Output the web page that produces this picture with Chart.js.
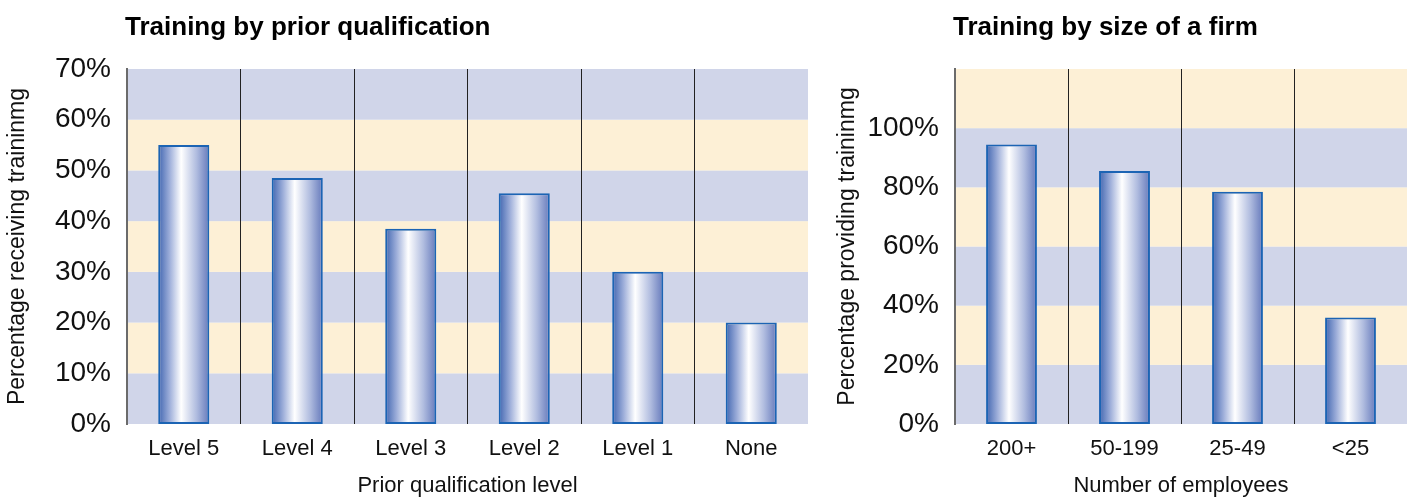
<!DOCTYPE html>
<html>
<head>
<meta charset="utf-8">
<script src="https://cdn.jsdelivr.net/npm/chart.js@4/dist/chart.umd.min.js"></script>
<style>
  body { margin: 0; background: #fff; }
  #wrap { position: relative; width: 1407px; height: 499px; }
  canvas { position: absolute; top: 0; }
</style>
</head>
<body>
<div id="wrap">
  <canvas id="qualChart" width="830" height="499" style="left:0"></canvas>
  <canvas id="firmChart" width="577" height="499" style="left:830px"></canvas>
</div>
<script>
const qualLevels = ['Level 5', 'Level 4', 'Level 3', 'Level 2', 'Level 1', 'None'];
const qualValues = [55, 48.5, 38.5, 45.5, 30, 20];

const firmSizes = ['200+', '50-199', '25-49', '<25'];
const firmValues = [94.5, 85.5, 78.5, 36];

const blueBand = '#d0d5e9';
const creamBand = '#fdf0d6';
const font = "'Liberation Sans', Arial, sans-serif";

Chart.defaults.font.family = font;
Chart.defaults.color = '#111';

// horizontal bands between y ticks, alternating colours
const bands = {
    id: 'bands',
    beforeDraw(chart, args, opts) {
        const {ctx, chartArea: a, scales: {y}} = chart;
        const step = opts.step;
        ctx.save();
        for (let v = 0, i = 0; v < y.max; v += step, i++) {
            const top = y.getPixelForValue(Math.min(v + step, y.max));
            const bot = y.getPixelForValue(v);
            ctx.fillStyle = i % 2 == 0 ? blueBand : creamBand;
            ctx.fillRect(a.left, top, a.right - a.left, bot - top);
        }
        ctx.restore();
    }
};

// title aligned with the plot area
const plotTitle = {
    id: 'plotTitle',
    afterDraw(chart, args, opts) {
        const ctx = chart.ctx;
        ctx.save();
        ctx.font = 'bold 26px ' + font;
        ctx.fillStyle = '#000';
        ctx.textBaseline = 'middle';
        ctx.fillText(opts.text, chart.chartArea.left - 2, 28);
        ctx.restore();
    }
};

function barFill(c) {
    const chart = c.chart;
    const x = chart.scales.x;
    if (!x || c.dataIndex === undefined) return '#7d92c8';
    const mid = x.getPixelForValue(c.dataIndex);
    const half = (x.right - x.left) / chart.data.labels.length * 0.45 / 2;
    if (!isFinite(mid) || !isFinite(half) || half <= 0) return '#7d92c8';
    const g = chart.ctx.createLinearGradient(mid - half, 0, mid + half, 0);
    g.addColorStop(0, '#4065b0');
    g.addColorStop(0.22, '#9cadd9');
    g.addColorStop(0.45, '#ffffff');
    g.addColorStop(0.75, '#b0bcdf');
    g.addColorStop(1, '#6579bb');
    return g;
}

function makeChart(id, labels, values, max, step, title, xTitle, yTitle, padRight, yWidth, tickCb) {
    return new Chart(document.getElementById(id).getContext('2d'), {
        type: 'bar',
        data: {
            labels: labels,
            datasets: [{
                data: values,
                backgroundColor: barFill,
                borderColor: '#1c64b4',
                borderWidth: 2,
                borderSkipped: false,
                barPercentage: 0.45,
                categoryPercentage: 1
            }]
        },
        options: {
            responsive: false,
            animation: false,
            layout: { padding: { top: 69, right: padRight, bottom: 0, left: 0 } },
            plugins: {
                legend: { display: false },
                tooltip: { enabled: false },
                bands: { step: step },
                plotTitle: { text: title }
            },
            scales: {
                x: {
                    grid: {
                        color: ctx => ctx.type === 'tick' ? '#222' : 'rgba(0,0,0,0)',
                        lineWidth: 1,
                        drawTicks: false
                    },
                    border: { display: false },
                    ticks: { font: { size: 22 }, padding: 12, maxRotation: 0 },
                    title: { display: true, text: xTitle, font: { size: 22 }, padding: { bottom: 0 } },
                    afterFit: s => { s.height = 75; }
                },
                y: {
                    min: 0,
                    max: max,
                    grid: { display: false, drawTicks: false },
                    border: { display: true, color: '#6b6b6b', width: 2 },
                    ticks: { stepSize: step, font: { size: 28 }, padding: 16, callback: tickCb },
                    title: { display: true, text: yTitle, font: { size: 23 }, padding: { top: 4 } },
                    afterFit: s => { s.width = yWidth; }
                }
            }
        },
        plugins: [bands, plotTitle]
    });
}

makeChart('qualChart', qualLevels, qualValues, 70, 10,
    'Training by prior qualification', 'Prior qualification level',
    'Percentage receiving traininmg', 22, 127, v => v + '%');

makeChart('firmChart', firmSizes, firmValues, 120, 20,
    'Training by size of a firm', 'Number of employees',
    'Percentage providing traininmg', 0, 125, v => v > 100 ? '' : v + '%');
</script>
</body>
</html>
